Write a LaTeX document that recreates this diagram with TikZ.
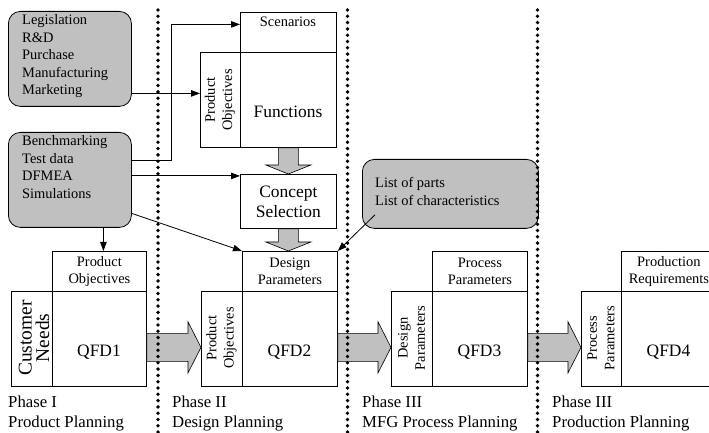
\documentclass[tikz,border=0pt]{standalone}
\usepackage{fontspec}
\setmainfont{Liberation Serif}
\usetikzlibrary{arrows.meta,calc,positioning}

\definecolor{shade}{RGB}{192,192,192}

% block arrows between the cells
\newcommand{\flowright}[2]{%
  \draw[fat] ($(#1)+(0,-14)$) -- ($(#2)+(-13,-14)$) -- ($(#2)+(-13,-25.5)$) -- (#2)
    -- ($(#2)+(-13,25.5)$) -- ($(#2)+(-13,14)$) -- ($(#1)+(0,14)$) -- cycle;}
\newcommand{\flowdown}[2]{%
  \draw[fat] ($(#1)+(-10,0)$) -- ($(#2)+(-10,-9)$) -- ($(#2)+(-22.5,-9)$) -- (#2)
    -- ($(#2)+(22.5,-9)$) -- ($(#2)+(10,-9)$) -- ($(#1)+(10,0)$) -- cycle;}

\begin{document}
\begin{tikzpicture}[
    x = 1bp, y = -1bp,
    cell/.style  = {draw, line width=0.8bp, inner sep=0pt, anchor=north west},
    note/.style  = {draw, line width=0.8bp, fill=shade, rounded corners=12bp, inner sep=0pt, anchor=north west},
    small/.style = {font=\fontsize{14.5}{17.5}\selectfont, align=center, inner sep=0pt},
    big/.style   = {font=\fontsize{17.5}{20}\selectfont, align=center, inner sep=0pt},
    list/.style  = {font=\fontsize{14.5}{17.5}\selectfont, align=left, inner sep=0pt, anchor=north west},
    phase/.style = {font=\fontsize{16.8}{20}\selectfont, align=left, inner sep=0pt, anchor=north west},
    link/.style  = {line width=0.8bp, -{Triangle[length=9bp,width=6.5bp]}},
    fat/.style   = {draw, line width=0.6bp, fill=shade}
]
    \useasboundingbox (0,0) rectangle (709,433);
    \clip (0,0) rectangle (709,433);

    % input notes
    \node[note, minimum width=123bp, minimum height=95bp] (legbox) at (8,11) {};
    \node[list] (legtext) at ($(legbox.north west)+(14,3.5)$)
        {Legislation\\R\&D\\Purchase\\Manufacturing\\Marketing};
    \node[note, minimum width=123bp, minimum height=95bp] (benchbox) at (8,132) {};
    \node[list] (benchtext) at ($(benchbox.north west)+(14,3.5)$)
        {Benchmarking\\Test data\\DFMEA\\Simulations};
    \node[note, minimum width=176bp, minimum height=69bp] (lop) at (362,159) {};
    \node[list] (loptext) at ($(lop.north west)+(13,18.5)$)
        {List of parts\\List of characteristics};

    % concept phase
    \node[cell, minimum width=96bp, minimum height=40bp] (scen) at (240,12) {};
    \node[small] (scentext) at (288,22) {Scenarios};
    \node[cell, minimum width=96bp, minimum height=95bp] (func) at (240,52) {};
    \node[big] (functext) at (288,112) {Functions};
    \node[cell, minimum width=40bp, minimum height=95bp] (po1side) at (200,52) {};
    \node[small, rotate=90] (po1text) at (220,100) {Product\\Objectives};
    \node[cell, big, minimum width=96bp, minimum height=54bp] (concept) at (240,174) {Concept\\Selection};

    % QFD1
    \node[cell, minimum width=41bp, minimum height=95bp] (cnside) at (11,291) {};
    \node[align=center, inner sep=0pt, rotate=90, font=\fontsize{19.5}{17.5}\selectfont] (cntext) at (34,338) {Customer\\Needs};
    \node[cell, small, minimum width=94bp, minimum height=40bp] (potop1) at (52,251) {Product\\Objectives};
    \node[cell, minimum width=94bp, minimum height=95bp] (qfd1) at (52,291) {};
    \node[big] (qfd1text) at (99,352) {QFD1};

    % QFD2
    \node[cell, minimum width=41bp, minimum height=95bp] (po2side) at (201,291) {};
    \node[small, rotate=90] (po2text) at (221.5,338) {Product\\Objectives};
    \node[cell, small, minimum width=95bp, minimum height=40bp] (dptop) at (242,251) {Design\\Parameters};
    \node[cell, minimum width=95bp, minimum height=95bp] (qfd2) at (242,291) {};
    \node[big] (qfd2text) at (289.5,352) {QFD2};

    % QFD3
    \node[cell, minimum width=41bp, minimum height=95bp] (dpside) at (391,291) {};
    \node[small, rotate=90] (dptext) at (411.5,338) {Design\\Parameters};
    \node[cell, small, minimum width=95bp, minimum height=40bp] (pptop) at (432,251) {Process\\Parameters};
    \node[cell, minimum width=95bp, minimum height=95bp] (qfd3) at (432,291) {};
    \node[big] (qfd3text) at (479.5,352) {QFD3};

    % QFD4
    \node[cell, minimum width=40bp, minimum height=95bp] (ppside) at (581,291) {};
    \node[small, rotate=90] (pptext) at (601,338) {Process\\Parameters};
    \node[cell, small, minimum width=95bp, minimum height=40bp] (prtop) at (621,251) {Production\\Requirements};
    \node[cell, minimum width=95bp, minimum height=95bp] (qfd4) at (621,291) {};
    \node[big] (qfd4text) at (668.5,352) {QFD4};

    % phases
    \node[phase] (ph1) at (8,395.5) {Phase I\\Product Planning};
    \node[phase] (ph2) at (172,395.5) {Phase II\\Design Planning};
    \node[phase] (ph3) at (362,395.5) {Phase III\\MFG Process Planning};
    \node[phase] (ph4) at (552,395.5) {Phase III\\Production Planning};

    % inputs
    \draw[link] ($(benchbox.east)+(0,-19.5)$) -- ++(40,0) |- ($(scen.west)+(0,-8)$);
    \draw[link] ($(legbox.east)+(0,34.5)$) coordinate (mk) -- (mk -| po1side.west);
    \draw[link] ($(benchbox.east)+(0,-4)$) coordinate (dm) -- (dm -| concept.west);
    \draw[link] ($(benchbox.east)+(0,33.5)$) -- (dptop.north west);
    \draw[link] ($(benchbox.south)+(33.5,0)$) -- ($(potop1.north)+(4,0)$);
    \draw[link] ($(lop.south west)+(13,-14)$) -- (dptop.north east);

    % block arrows
    \flowdown{func.south}{concept.north}
    \coordinate (cs) at (concept.south);
    \coordinate (ce) at (cs |- dptop.north);
    \flowdown{cs}{ce}
    \coordinate (h1a) at ($(qfd1.east)+(0,8.5)$);
    \coordinate (h1b) at (h1a -| po2side.west);
    \flowright{h1a}{h1b}
    \coordinate (h2a) at ($(qfd2.east)+(0,8.5)$);
    \coordinate (h2b) at (h2a -| dpside.west);
    \flowright{h2a}{h2b}
    \coordinate (h3a) at ($(qfd3.east)+(0,8.5)$);
    \coordinate (h3b) at (h3a -| ppside.west);
    \flowright{h3a}{h3b}

    % phase borders
    \foreach \bx in {158, 347.5, 537.5}
        \foreach \k in {0,...,67}
            \fill (\bx, 10+6.3*\k) circle (1.9bp);

\end{tikzpicture}
\end{document}
